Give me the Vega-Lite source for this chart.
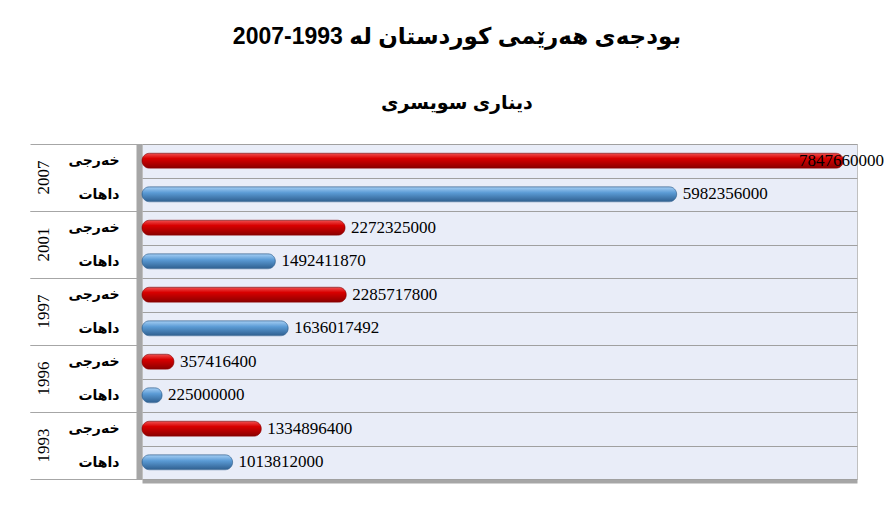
{
  "$schema": "https://vega.github.io/schema/vega-lite/v6.json",
  "background": "white",
  "padding": {"left": 29, "top": 26, "right": 10, "bottom": 10},
  "data": {"values": [
    {"year": "2007", "type": "خەرجی", "value": 7847660000},
    {"year": "2007", "type": "داهات", "value": 5982356000},
    {"year": "2001", "type": "خەرجی", "value": 2272325000},
    {"year": "2001", "type": "داهات", "value": 1492411870},
    {"year": "1997", "type": "خەرجی", "value": 2285717800},
    {"year": "1997", "type": "داهات", "value": 1636017492},
    {"year": "1996", "type": "خەرجی", "value": 357416400},
    {"year": "1996", "type": "داهات", "value": 225000000},
    {"year": "1993", "type": "خەرجی", "value": 1334896400},
    {"year": "1993", "type": "داهات", "value": 1013812000}
  ]},
  "title": {
    "text": "‫بودجەی هەرێمی کوردستان لە 1993-2007‬",
    "subtitle": "دیناری سویسری",
    "font": "Liberation Sans, DejaVu Sans",
    "fontSize": 23,
    "fontWeight": "bold",
    "color": "black",
    "subtitleFont": "Liberation Sans, DejaVu Sans",
    "subtitleFontSize": 19,
    "subtitleFontWeight": "bold",
    "subtitleColor": "black",
    "subtitlePadding": 45,
    "anchor": "middle",
    "offset": 24
  },
  "bounds": "flush",
  "facet": {
    "row": {
      "field": "year",
      "type": "ordinal",
      "sort": ["2007", "2001", "1997", "1996", "1993"],
      "title": null,
      "header": {
        "labelAngle": -90,
        "labelFont": "Liberation Serif",
        "labelFontSize": 17,
        "labelColor": "black",
        "labelPadding": -31
      }
    }
  },
  "spacing": 0,
  "spec": {
    "width": 715,
    "height": 67,
    "encoding": {
      "y": {
        "field": "type",
        "type": "nominal",
        "sort": ["خەرجی", "داهات"],
        "title": null,
        "scale": {"paddingInner": 0, "paddingOuter": 0},
        "axis": {
          "tickBand": "extent",
          "tickSize": 112,
          "tickColor": "#a6a6a6",
          "tickOpacity": {"condition": {"test": "datum.label !== 'خەرجی'", "value": 1}, "value": 0},
          "labelPadding": -89,
          "labelFont": "DejaVu Sans",
          "labelFontWeight": "bold",
          "labelFontSize": 14,
          "labelColor": "black",
          "domainColor": "#a6a6a6",
          "domainWidth": 12,
          "grid": true,
          "gridColor": "#a0a0a0",
          "gridWidth": 1.2
        }
      },
      "x": {
        "field": "value",
        "type": "quantitative",
        "title": null,
        "scale": {"domain": [0, 8000000000], "nice": false},
        "axis": {
          "labels": false,
          "ticks": false,
          "grid": false,
          "domainColor": "#a6a6a6",
          "domainWidth": 8
        }
      }
    },
    "layer": [
      {
        "transform": [{"filter": "datum.type === 'خەرجی'"}],
        "mark": {
          "type": "bar",
          "size": 15,
          "cornerRadius": 7.5,
          "stroke": "#8a0000",
          "strokeWidth": 0.6,
          "color": {"gradient": "linear", "x1": 0, "y1": 0, "x2": 0, "y2": 1,
            "stops": [{"offset": 0, "color": "#f05050"}, {"offset": 0.35, "color": "#d80000"}, {"offset": 1, "color": "#8a0000"}]}
        }
      },
      {
        "transform": [{"filter": "datum.type === 'داهات'"}],
        "mark": {
          "type": "bar",
          "size": 15,
          "cornerRadius": 7.5,
          "stroke": "#2f5f8f",
          "strokeWidth": 0.6,
          "color": {"gradient": "linear", "x1": 0, "y1": 0, "x2": 0, "y2": 1,
            "stops": [{"offset": 0, "color": "#a8d0f5"}, {"offset": 0.4, "color": "#5b9bd5"}, {"offset": 1, "color": "#2f5f8f"}]}
        }
      },
      {
        "transform": [{"filter": "datum.value < 7000000000"}],
        "mark": {"type": "text", "align": "left", "dx": 6, "font": "Liberation Serif", "fontSize": 17, "color": "black"},
        "encoding": {"text": {"field": "value", "type": "quantitative", "format": "d"}}
      },
      {
        "transform": [{"filter": "datum.value >= 7000000000"}],
        "mark": {"type": "text", "align": "center", "dx": -2, "font": "Liberation Serif", "fontSize": 17, "color": "black"},
        "encoding": {"text": {"field": "value", "type": "quantitative", "format": "d"}}
      }
    ]
  },
  "config": {
    "view": {"fill": "#e9edf8", "stroke": "#c0c0c0"}
  }
}
